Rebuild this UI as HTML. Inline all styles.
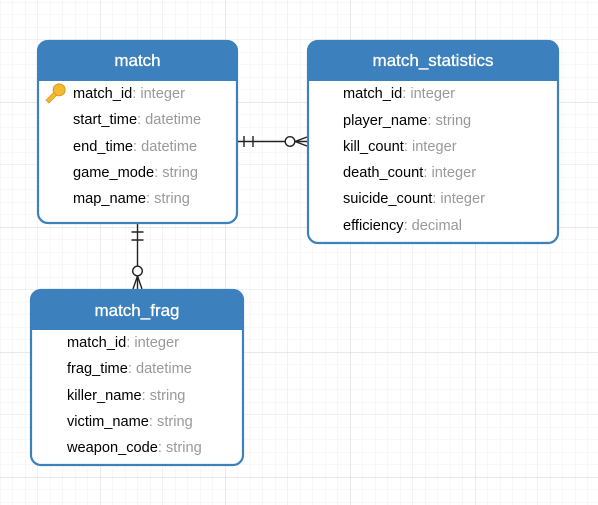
<!DOCTYPE html>
<html><head><meta charset="utf-8"><style>
html,body{margin:0;padding:0;width:598px;height:505px;overflow:hidden;background:#fff}
svg{display:block}
.t{font-family:"Liberation Sans",Arial,sans-serif;font-size:14.6px;fill:#000}
.ty{fill:#999}
.h{font-family:"Liberation Sans",Arial,sans-serif;font-size:17px;fill:#fff;font-weight:normal;stroke:#fff;stroke-width:0.3}
</style></head><body>
<svg width="598" height="505" viewBox="0 0 598 505" xmlns="http://www.w3.org/2000/svg">
<defs>
<pattern id="g1" width="12.5" height="12.5" patternUnits="userSpaceOnUse" x="0" y="2">
<path d="M0 0H12.5M0 0V12.5" stroke="#f0f0f0" stroke-width="1" fill="none"/>
</pattern>
<pattern id="g2" width="62.5" height="62.5" patternUnits="userSpaceOnUse" x="37.5" y="39.5">
<path d="M0 0H62.5M0 0V62.5" stroke="#e6e6e6" stroke-width="1" fill="none"/>
</pattern>
<pattern id="g3" width="125" height="125" patternUnits="userSpaceOnUse" x="100" y="102">
<path d="M0 0H125M0 0V125" stroke="#d4d4d4" stroke-width="1" fill="none"/>
</pattern>
</defs>
<rect width="598" height="505" fill="url(#g1)"/>
<rect width="598" height="505" fill="url(#g2)"/>
<rect width="598" height="505" fill="url(#g3)"/>

<g stroke="#222" stroke-width="1.4" fill="none">
<path d="M238 141.5H307"/>
<path d="M244 136V147M253 136V147"/>
<circle cx="290" cy="141.5" r="4.8" fill="#fff"/>
<path d="M295 141.5L307 137M295 141.5L307 146"/>
<path d="M137.5 223V289"/>
<path d="M131.5 232H143.5M131.5 240H143.5"/>
<circle cx="137.5" cy="271" r="4.8" fill="#fff"/>
<path d="M137.5 276L133 289M137.5 276L142 289"/>
</g>

<g>
<rect x="38" y="41" width="199" height="182" rx="10" fill="#fff" stroke="#3c81be" stroke-width="2.2"/>
<path d="M38 80V51a10 10 0 0 1 10-10H227a10 10 0 0 1 10 10V80Z" fill="#3c81be" stroke="#3c81be" stroke-width="2"/>
<text class="h" x="137.5" y="66" text-anchor="middle">match</text>
<g transform="translate(56,93) rotate(45)">
<circle cx="0" cy="-4.5" r="6" fill="#f3b931" stroke="#d69a1b" stroke-width="1"/>
<rect x="-2" y="1" width="4" height="11" fill="#f3b931" stroke="#d69a1b" stroke-width="0.8"/>
</g>
<text class="t" x="73" y="98">match_id<tspan class="ty">: integer</tspan></text>
<text class="t" x="73" y="124">start_time<tspan class="ty">: datetime</tspan></text>
<text class="t" x="73" y="151">end_time<tspan class="ty">: datetime</tspan></text>
<text class="t" x="73" y="177">game_mode<tspan class="ty">: string</tspan></text>
<text class="t" x="73" y="203">map_name<tspan class="ty">: string</tspan></text>
</g>

<g>
<rect x="308" y="41" width="250" height="202" rx="10" fill="#fff" stroke="#3c81be" stroke-width="2.2"/>
<path d="M308 80V51a10 10 0 0 1 10-10H548a10 10 0 0 1 10 10V80Z" fill="#3c81be" stroke="#3c81be" stroke-width="2"/>
<text class="h" x="433" y="66" text-anchor="middle">match_statistics</text>
<text class="t" x="343" y="98">match_id<tspan class="ty">: integer</tspan></text>
<text class="t" x="343" y="125">player_name<tspan class="ty">: string</tspan></text>
<text class="t" x="343" y="151">kill_count<tspan class="ty">: integer</tspan></text>
<text class="t" x="343" y="177">death_count<tspan class="ty">: integer</tspan></text>
<text class="t" x="343" y="203">suicide_count<tspan class="ty">: integer</tspan></text>
<text class="t" x="343" y="230">efficiency<tspan class="ty">: decimal</tspan></text>
</g>

<g>
<rect x="31" y="290" width="212" height="175" rx="10" fill="#fff" stroke="#3c81be" stroke-width="2.2"/>
<path d="M31 329V300a10 10 0 0 1 10-10H233a10 10 0 0 1 10 10V329Z" fill="#3c81be" stroke="#3c81be" stroke-width="2"/>
<text class="h" x="137" y="316" text-anchor="middle">match_frag</text>
<text class="t" x="67" y="347">match_id<tspan class="ty">: integer</tspan></text>
<text class="t" x="67" y="373">frag_time<tspan class="ty">: datetime</tspan></text>
<text class="t" x="67" y="400">killer_name<tspan class="ty">: string</tspan></text>
<text class="t" x="67" y="426">victim_name<tspan class="ty">: string</tspan></text>
<text class="t" x="67" y="452">weapon_code<tspan class="ty">: string</tspan></text>
</g>
</svg>
</body></html>
